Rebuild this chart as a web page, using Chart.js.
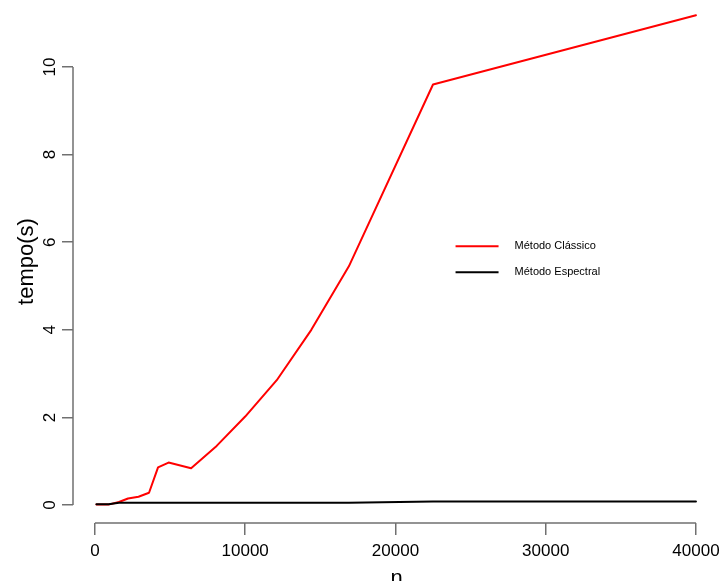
<!DOCTYPE html>
<html>
<head>
<meta charset="utf-8">
<script src="https://cdn.jsdelivr.net/npm/chart.js@4.4.1/dist/chart.umd.min.js"></script>
<style>
  html, body { margin: 0; padding: 0; background: #ffffff; }
  canvas { display: block; }
</style>
</head>
<body>
<canvas id="chart" width="720" height="581"></canvas>
<script>
// Problem sizes and measured run times (seconds)
const sizes = [100, 900, 1600, 2200, 2900, 3600, 4200, 4900, 6400, 8100, 10000, 12100, 14400, 16900, 22500, 40000];
const classicTimes = [0.01, 0.01, 0.07, 0.15, 0.19, 0.28, 0.86, 0.97, 0.84, 1.35, 2.02, 2.85, 4.0, 5.45, 9.6, 11.18];
const spectralTimes = [0.02, 0.02, 0.05, 0.05, 0.05, 0.05, 0.05, 0.05, 0.05, 0.05, 0.05, 0.05, 0.05, 0.05, 0.08, 0.08];
const seriesNames = ['Método Clássico', 'Método Espectral'];
const seriesColors = ['#ff0000', '#000000'];
const xTicks = [0, 10000, 20000, 30000, 40000];
const yTicks = [0, 2, 4, 6, 8, 10];

const FONT = '"Liberation Sans", Arial, sans-serif';
const AXIS_COLOR = '#707070';

// R-style axes: the axis line runs only from the first to the last tick
const axisLines = {
  id: 'axisLines',
  afterDraw(chart) {
    const { ctx, chartArea, scales } = chart;
    const x = scales.x, y = scales.y;
    ctx.save();
    ctx.strokeStyle = AXIS_COLOR;
    ctx.lineWidth = 1.5;
    ctx.beginPath();
    ctx.moveTo(x.getPixelForValue(xTicks[0]), chartArea.bottom);
    ctx.lineTo(x.getPixelForValue(xTicks[xTicks.length - 1]), chartArea.bottom);
    ctx.moveTo(chartArea.left, y.getPixelForValue(yTicks[0]));
    ctx.lineTo(chartArea.left, y.getPixelForValue(yTicks[yTicks.length - 1]));
    ctx.stroke();
    ctx.restore();
  }
};

// Borderless legend placed inside the plot at data coordinates
const plotLegend = {
  id: 'plotLegend',
  afterDatasetsDraw(chart, args, opts) {
    const { ctx, scales } = chart;
    const x0 = scales.x.getPixelForValue(opts.atX);
    const y0 = scales.y.getPixelForValue(opts.atY);
    ctx.save();
    ctx.font = '11px ' + FONT;
    ctx.textBaseline = 'middle';
    ctx.textAlign = 'left';
    seriesNames.forEach((name, i) => {
      const yy = y0 + i * opts.rowGap;
      ctx.strokeStyle = seriesColors[i];
      ctx.lineWidth = 2;
      ctx.beginPath();
      ctx.moveTo(x0, yy);
      ctx.lineTo(x0 + opts.lineLen, yy);
      ctx.stroke();
      ctx.fillStyle = '#000000';
      ctx.fillText(name, x0 + opts.lineLen + opts.textGap, yy);
    });
    ctx.restore();
  }
};

const toPoints = (vals) => sizes.map((n, i) => ({ x: n, y: vals[i] }));

new Chart(document.getElementById('chart'), {
  type: 'line',
  data: {
    datasets: [
      {
        label: seriesNames[0],
        data: toPoints(classicTimes),
        borderColor: seriesColors[0],
        borderWidth: 2,
        pointRadius: 0,
        tension: 0,
        fill: false,
        order: 1,
        borderJoinStyle: 'round',
        borderCapStyle: 'round'
      },
      {
        label: seriesNames[1],
        data: toPoints(spectralTimes),
        borderColor: seriesColors[1],
        borderWidth: 2,
        pointRadius: 0,
        tension: 0,
        fill: false,
        order: 0,
        borderJoinStyle: 'round',
        borderCapStyle: 'round'
      }
    ]
  },
  options: {
    responsive: false,
    animation: false,
    events: [],
    layout: { padding: 0 },
    plugins: {
      legend: { display: false },
      tooltip: { enabled: false },
      plotLegend: { atX: 24000, atY: 5.91, rowGap: 26, lineLen: 43, textGap: 16 }
    },
    scales: {
      x: {
        type: 'linear',
        min: -1460,
        max: 41600,
        afterBuildTicks(scale) { scale.ticks = xTicks.map(v => ({ value: v })); },
        afterFit(scale) {
          scale.height = 58;
          scale.paddingLeft = 0;
          scale.paddingRight = 0;
        },
        grid: { display: true, drawOnChartArea: false, drawTicks: true, tickLength: 12, color: AXIS_COLOR, lineWidth: 1.5 },
        border: { display: false },
        ticks: { font: { family: FONT, size: 17 }, color: '#000000', padding: 6, maxRotation: 0, autoSkip: false,
                 callback: (v) => String(v) },
        title: { display: true, text: 'n', color: '#000000', font: { family: FONT, size: 22, lineHeight: 0.2 }, padding: 0 }
      },
      y: {
        type: 'linear',
        min: -0.41,
        max: 11.53,
        afterBuildTicks(scale) { scale.ticks = yTicks.map(v => ({ value: v })); },
        afterFit(scale) {
          scale.width = 73;
          scale.paddingTop = 0;
          scale.paddingBottom = 0;
        },
        grid: { display: true, drawOnChartArea: false, drawTicks: true, tickLength: 11, color: AXIS_COLOR, lineWidth: 1.5 },
        border: { display: false },
        ticks: { font: { family: FONT, size: 17 }, color: '#000000', padding: 2, minRotation: 90, maxRotation: 90,
                 crossAlign: 'center', autoSkip: false, callback: (v) => String(v) },
        title: { display: true, text: 'tempo(s)', color: '#000000', font: { family: FONT, size: 22 }, padding: { top: 14, bottom: 0 } }
      }
    }
  },
  plugins: [axisLines, plotLegend]
});
</script>
</body>
</html>
